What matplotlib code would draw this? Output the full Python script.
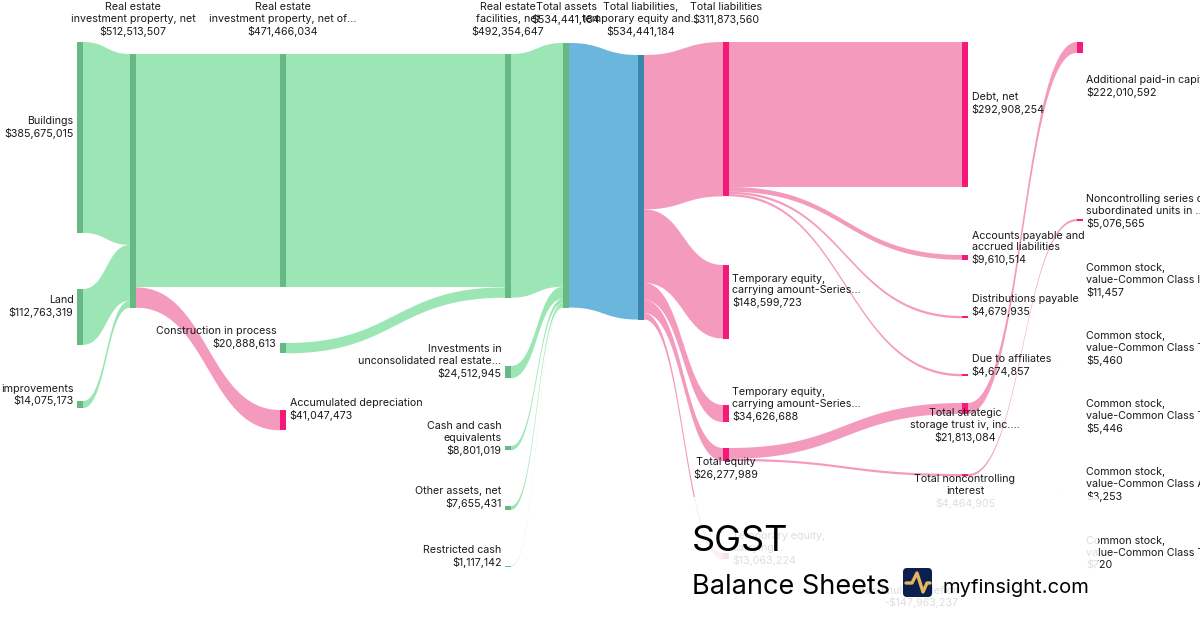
import numpy as np
import matplotlib.pyplot as plt
from matplotlib.patches import Rectangle, FancyBboxPatch

plt.rcParams['font.family'] = ['Inter', 'DejaVu Sans']

# nodes: names + values (USD)
node_names = [
    "Buildings", "Land", "improvements",
    "Real estate\ninvestment property, net",
    "Real estate\ninvestment property, net of...", "Construction in process", "Accumulated depreciation",
    "Real estate\nfacilities, net", "Investments in\nunconsolidated real estate...",
    "Cash and cash\nequivalents", "Other assets, net", "Restricted cash",
    "Total assets",
    "Total liabilities,\ntemporary equity and...",
    "Total liabilities", "Temporary equity,\ncarrying amount-Series...",
    "Temporary equity,\ncarrying amount-Series...", "Total equity", "Temporary equity,\ncarrying...",
    "Debt, net", "Accounts payable and\naccrued liabilities", "Distributions payable",
    "Due to affiliates", "Total strategic\nstorage trust iv, inc....", "Total noncontrolling\ninterest",
    "Accumulated deficit",
    "Additional paid-in capital", "Noncontrolling series of\nsubordinated units in ...",
    "Common stock,\nvalue-Common Class I", "Common stock,\nvalue-Common Class T",
    "Common stock,\nvalue-Common Class T", "Common stock,\nvalue-Common Class A",
    "Common stock,\nvalue-Common Class T",
]
node_values = [
    385675015, 112763319, 14075173,
    512513507,
    471466034, 20888613, 41047473,
    492354647, 24512945, 8801019, 7655431, 1117142,
    534441184,
    534441184,
    311873560, 148599723, 34626688, 26277989, 13063224,
    292908254, 9610514, 4679935, 4674857, 21813084, 4464905, -147963237,
    222010592, 5076565, 11457, 5460, 5446, 3253, 720,
]
# flows (source index, target index)
link_src = [0, 1, 2, 3, 3, 4, 5, 7, 8, 9, 10, 11, 12, 13, 13, 13, 13, 13,
            14, 14, 14, 14, 17, 17, 23, 23, 23, 23, 23, 23, 24]
link_dst = [3, 3, 3, 4, 6, 7, 7, 12, 12, 12, 12, 12, 13, 14, 15, 16, 17, 18,
            19, 20, 21, 22, 23, 24, 26, 28, 29, 30, 31, 32, 27]

# layout
SCALE = 0.495 / 1e6      # px per dollar
NODE_W = 6
col_x = [77, 130, 280, 505, 563, 638, 723, 962, 1077]
node_col = [0, 0, 0, 1, 2, 2, 2, 3, 3, 3, 3, 3, 4, 5, 6, 6, 6, 6, 6,
            7, 7, 7, 7, 7, 7, 7, 8, 8, 8, 8, 8, 8, 8]
node_top = [42, 289, 401, 54, 54, 343, 410, 54, 366, 446, 506, 566, 43, 55,
            42, 265, 405, 448, 553, 42, 255, 316, 374, 403, 474, 597,
            42, 219, 291, 359, 427, 495, 563]
label_side = ['L', 'L', 'L', 'T', 'T', 'L', 'R', 'T', 'L', 'L', 'L', 'L', 'T', 'T',
              'T', 'R', 'R', 'B', 'R', 'R', 'R', 'R', 'R', 'B', 'B', 'L',
              'R', 'R', 'R', 'R', 'R', 'R', 'R']
label_dy = [1.5, 1, 2, 0, 0, 1, 0.5, 0, 6.5, 7.5, 1, 1.5, 0, 0,
            0, 6.5, 8, 3.5, 9.5, 0.5, 8, 0, 1.5, 0.5, 0, 11.5,
            51, 8.5, 6.5, 6.5, 6.5, 6.5, 6.5]

GREEN, GREEN_N = '#9be6b4', '#66b884'
PINK, PINK_N = '#f49abd', '#f51a79'
BLUE, BLUE_N = '#6ab6dc', '#3a87ab'
node_group = ['g'] * 6 + ['p'] + ['g'] * 6 + ['b'] + ['p'] * 19
link_cols = {'g': GREEN, 'p': PINK, 'b': BLUE}
node_cols = {'g': GREEN_N, 'p': PINK_N, 'b': BLUE_N}

n = len(node_values)
link_val = [max(0, min(node_values[s], node_values[d])) for s, d in zip(link_src, link_dst)]
inflow = np.zeros(n)
outflow = np.zeros(n)
for s, d, v in zip(link_src, link_dst, link_val):
    outflow[s] += v
    inflow[d] += v
node_h = [(inflow[i] if inflow[i] > 0 else outflow[i]) * SCALE for i in range(n)]


def ribbon(ax, x0, a0, b0, x1, a1, b1, color):
    t = np.linspace(0, 1, 80)
    xm = (x0 + x1) / 2
    bx = (1 - t) ** 3 * x0 + 3 * (1 - t) ** 2 * t * xm + 3 * (1 - t) * t ** 2 * xm + t ** 3 * x1
    s = 3 * t ** 2 - 2 * t ** 3
    top = a0 + (a1 - a0) * s
    bot = b0 + (b1 - b0) * s
    ax.fill(np.r_[bx, bx[::-1]], np.r_[top, bot[::-1]], color=color, lw=0, zorder=1)


fig = plt.figure(figsize=(12, 6.3), dpi=100)
ax = fig.add_axes([0, 0, 1, 1])
ax.set_xlim(0, 1200)
ax.set_ylim(630, 0)
ax.axis('off')

out_off = list(node_top)
in_off = list(node_top)
for s, d, v in zip(link_src, link_dst, link_val):
    w = v * SCALE
    x0 = col_x[node_col[s]] + NODE_W
    x1 = col_x[node_col[d]]
    ribbon(ax, x0, out_off[s], out_off[s] + w, x1, in_off[d], in_off[d] + w,
           link_cols[node_group[d]])
    out_off[s] += w
    in_off[d] += w

txt = dict(fontsize=7.7, color='#1a1a1a', linespacing=1.22, zorder=3)
for i in range(n):
    x = col_x[node_col[i]]
    ax.add_patch(Rectangle((x, node_top[i]), NODE_W, node_h[i],
                           color=node_cols[node_group[i]], lw=0, zorder=2))
    v = node_values[i]
    vs = ('-$' if v < 0 else '$') + f"{abs(v):,}"
    label = node_names[i] + "\n" + vs
    cy = node_top[i] + node_h[i] / 2
    side = label_side[i]
    if side == 'L':
        ax.text(x - 3.5, cy + label_dy[i], label, ha='right', va='bottom', **txt)
    elif side == 'R':
        ax.text(x + NODE_W + 3.5, cy + label_dy[i], label, ha='left', va='bottom', **txt)
    elif side == 'T':
        ax.text(x + NODE_W / 2, 2, label, ha='center', va='top', **txt)
    else:
        ax.text(x + NODE_W / 2, cy + label_dy[i] - 1, label, ha='center', va='top', **txt)

# white veil under the title block
ax.add_patch(Rectangle((668, 497), 430, 140, color='white', alpha=0.86, lw=0, zorder=4))

ax.text(692, 551, "SGST", fontsize=26, color='black', va='baseline', ha='left', zorder=5)
ax.text(692, 594, "Balance Sheets", fontsize=19.5, color='black', va='baseline', ha='left', zorder=5)
ax.add_patch(FancyBboxPatch((903, 568), 29, 29, boxstyle="round,pad=0,rounding_size=4",
                            fc='#0b1f4e', ec='none', zorder=5))
ax.plot([906, 912, 917, 923, 927, 930], [583, 583, 573, 592, 583, 583],
        color='#e6b65c', lw=2.4, solid_capstyle='round', solid_joinstyle='round', zorder=6)
ax.text(942, 593, "myfinsight.com", fontsize=14.5, color='black', va='baseline', ha='left', zorder=5)

fig.savefig('out.png', dpi=100)
